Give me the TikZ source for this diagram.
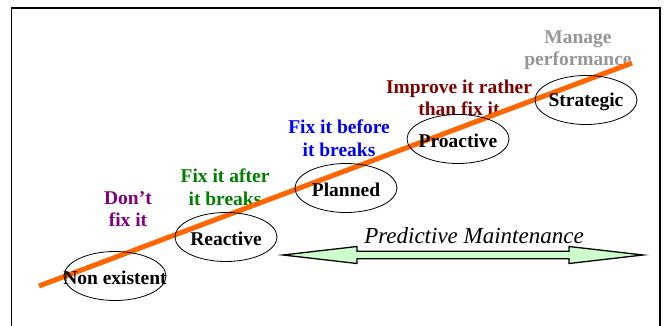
\documentclass[tikz,border=0pt]{standalone}
\usepackage{fontspec}
\setmainfont{Liberation Serif}
\usetikzlibrary{shapes.geometric,calc}
\definecolor{lineorange}{RGB}{255,102,0}
\definecolor{lblpurple}{RGB}{128,0,128}
\definecolor{lblgreen}{RGB}{0,128,0}
\definecolor{lblblue}{RGB}{0,0,255}
\definecolor{lbldred}{RGB}{128,0,0}
\definecolor{lblgray}{RGB}{150,150,150}
\definecolor{arrowgreen}{RGB}{204,255,204}
\begin{document}
\begin{tikzpicture}[x=1pt,y=-1pt,
  stage/.style={ellipse,draw,line width=0.8pt,minimum width=102pt,minimum height=49pt,inner sep=0pt},
  stagetext/.style={inner sep=0pt,yshift=-2pt,font=\fontsize{19.5}{21}\selectfont\bfseries},
  tag/.style={align=center,inner sep=0pt,font=\fontsize{19.5}{22.5}\selectfont\bfseries}]
\useasboundingbox (0,0) rectangle (665,326);
\draw[line width=1.5pt] (11.5,326) -- (11.5,8) -- (660,8) -- (660,326);
% colored labels
\node[tag,text=lblpurple] (dont) at (128,209) {Don’t\\fix it};
\node[tag,text=lblgreen] (after) at (225,187) {Fix it after\\it breaks};
\node[tag,text=lblblue] (before) at (339,138) {Fix it before\\it breaks};
\node[tag,text=lbldred] (improve) at (459,98) {Improve it rather\\than fix it};
\node[tag,text=lblgray] (manage) at (578,50) {Manage\\performance};
% orange line
\coordinate (ls) at (39,286);
\coordinate (le) at (632,63);
\draw[lineorange,line width=5pt] (ls) -- (le);
% stages
\node[stage,label={[stagetext]center:Non existent}] (ne) at (115,276) {};
\node[stage,label={[stagetext]center:Reactive}] (re) at (226,237) {};
\node[stage,label={[stagetext]center:Planned}] (pl) at (346,188) {};
\node[stage,label={[stagetext]center:Proactive}] (pr) at (458,139) {};
\node[stage,label={[stagetext]center:Strategic}] (st) at (586,100) {};
% predictive arrow
\coordinate (al) at (283,255);
\coordinate (ar) at (643,255);
\draw[fill=arrowgreen,line width=1.3pt,line join=miter]
  (al) -- ($(al)+(74,-8.5)$) -- ($(al)+(74,-3.8)$) -- ($(ar)+(-74,-3.8)$) -- ($(ar)+(-74,-8.5)$)
  -- (ar) -- ($(ar)+(-74,8.5)$) -- ($(ar)+(-74,3.8)$) -- ($(al)+(74,3.8)$) -- ($(al)+(74,8.5)$) -- cycle;
\node[font=\fontsize{23}{25}\selectfont\itshape,inner sep=0pt] (pm) at (474,236) {Predictive Maintenance};
\end{tikzpicture}
\end{document}
